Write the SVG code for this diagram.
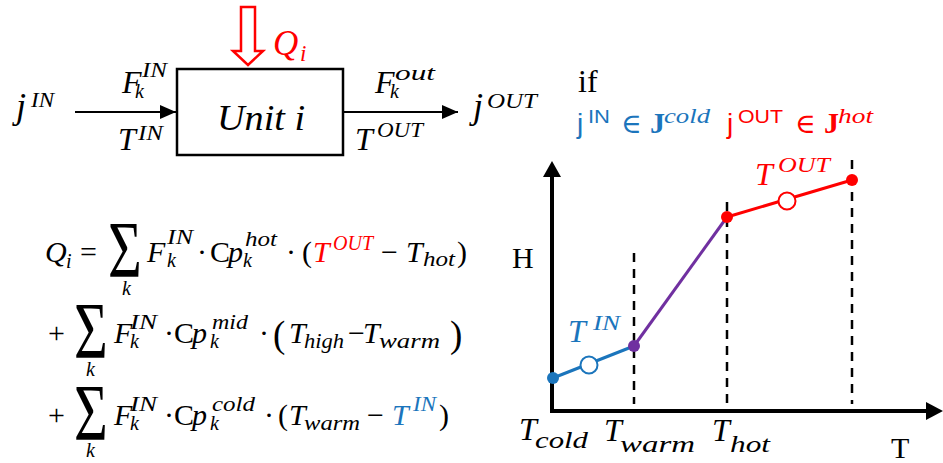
<svg xmlns="http://www.w3.org/2000/svg" width="943" height="463" viewBox="0 0 943 463">
<style>
text{font-family:"Liberation Serif","DejaVu Serif",serif;fill:#000}
.m{font-style:italic;font-size:32px}
.s{font-style:italic;font-size:20px}
.e{font-style:italic;font-size:30px}
.es{font-style:italic;font-size:20px}
.up{font-style:normal}
.r{fill:#ff0000}
.b{fill:#1b75bc}
.sans{font-family:"Liberation Sans","Noto Sans",sans-serif}
.sig{font-style:normal;font-size:58px}
.dash{stroke:#000;stroke-width:2.5;stroke-dasharray:9,7;fill:none}
.ax{stroke:#000;stroke-width:4;fill:none}
</style>
<defs>
<marker id="ah" markerWidth="16" markerHeight="14" refX="16" refY="7" orient="auto" markerUnits="userSpaceOnUse">
<path d="M0,0 L16,7 L0,14 Z" fill="#000"/>
</marker>
</defs>

<g id="unit">
<rect x="177" y="69" width="166" height="86" fill="#fff" stroke="#000" stroke-width="2.5"/>
<text class="m" x="217" y="130" textLength="88" lengthAdjust="spacingAndGlyphs" style="font-size:36px">Unit i</text>
</g>

<g id="heat">
<path d="M241,7 H255 V51 H263 L248,65 L233,51 H241 Z" fill="none" stroke="#ff0000" stroke-width="2.5"/>
<text class="m r" x="273" y="55" style="font-size:35px">Q</text><text class="s r" x="300" y="61" style="font-size:23px">i</text>
</g>

<g id="inlet">
<text class="m" x="16" y="118" style="font-size:36px">j</text><text class="s" x="31" y="107" textLength="23" lengthAdjust="spacingAndGlyphs">IN</text>
<text class="m" x="122" y="93">F</text><text class="s" x="142" y="77" textLength="25" lengthAdjust="spacingAndGlyphs">IN</text><text class="s" x="135" y="98">k</text>
<text class="m" x="118" y="150">T</text><text class="s" x="138" y="140" textLength="25" lengthAdjust="spacingAndGlyphs">IN</text>
</g>

<g id="outlet">
<text class="m" x="375" y="93">F</text><text class="s" x="395" y="80" textLength="40" lengthAdjust="spacingAndGlyphs">out</text><text class="s" x="390" y="98">k</text>
<text class="m" x="355" y="150">T</text><text class="s" x="377" y="137" textLength="46" lengthAdjust="spacingAndGlyphs">OUT</text>
<text class="m" x="473" y="118" style="font-size:36px">j</text><text class="s" x="487" y="108" textLength="50" lengthAdjust="spacingAndGlyphs">OUT</text>
</g>

<g id="connectors">
<line x1="75" y1="112" x2="176" y2="112" stroke="#000" stroke-width="2" marker-end="url(#ah)"/>
<line x1="343" y1="112" x2="458" y2="112" stroke="#000" stroke-width="2" marker-end="url(#ah)"/>
</g>

<g id="equation">
<!-- line 1 -->
<text class="e" x="45" y="262">Q</text><text class="es" x="66" y="268">i</text>
<text class="e up" x="80" y="262">=</text>
<text class="sig" transform="translate(108,277) scale(1,1.38)">Σ</text>
<text class="es" x="122" y="295">k</text>
<text class="e" x="147" y="262">F</text><text class="es" x="167" y="244" textLength="26" lengthAdjust="spacingAndGlyphs">IN</text><text class="es" x="167" y="267">k</text>
<text class="e up" x="197" y="262">·</text>
<text class="e up" x="210" y="262">C</text><text class="e" x="228" y="262">p</text><text class="es" x="245" y="246" textLength="32" lengthAdjust="spacingAndGlyphs">hot</text><text class="es" x="243" y="267">k</text>
<text class="e up" x="286" y="262">·</text>
<text class="e up" x="302" y="262">(</text>
<text class="e r" x="313" y="262">T</text><text class="es r" x="333" y="250" textLength="40" lengthAdjust="spacingAndGlyphs">OUT</text>
<text class="e up" x="381" y="262">−</text>
<text class="e" x="406" y="262">T</text><text class="es" x="423" y="266" textLength="32" lengthAdjust="spacingAndGlyphs">hot</text>
<text class="e up" x="457" y="262">)</text>
<!-- line 2 -->
<text class="e up" x="48" y="343">+</text>
<text class="sig" transform="translate(74,358) scale(1,1.38)">Σ</text>
<text class="es" x="86" y="376">k</text>
<text class="e" x="114" y="343">F</text><text class="es" x="130" y="329" textLength="27" lengthAdjust="spacingAndGlyphs">IN</text><text class="es" x="130" y="348">k</text>
<text class="e up" x="164" y="343">·</text>
<text class="e up" x="174" y="343">C</text><text class="e" x="192" y="343">p</text><text class="es" x="212" y="329" textLength="36" lengthAdjust="spacingAndGlyphs">mid</text><text class="es" x="210" y="348">k</text>
<text class="e up" x="259" y="343">·</text>
<text class="up" x="273" y="347" style="font-size:37px">(</text>
<text class="e" x="289" y="343">T</text><text class="es" x="304" y="348" textLength="40" lengthAdjust="spacingAndGlyphs">high</text>
<text class="e up" x="348" y="343">−</text>
<text class="e" x="363" y="343">T</text><text class="es" x="379" y="348" textLength="61" lengthAdjust="spacingAndGlyphs">warm</text>
<text class="up" x="450" y="347" style="font-size:37px">)</text>
<!-- line 3 -->
<text class="e up" x="48" y="425">+</text>
<text class="sig" transform="translate(74,440) scale(1,1.38)">Σ</text>
<text class="es" x="86" y="457">k</text>
<text class="e" x="114" y="425">F</text><text class="es" x="130" y="411" textLength="27" lengthAdjust="spacingAndGlyphs">IN</text><text class="es" x="130" y="430">k</text>
<text class="e up" x="164" y="425">·</text>
<text class="e up" x="174" y="425">C</text><text class="e" x="192" y="425">p</text><text class="es" x="212" y="411" textLength="43" lengthAdjust="spacingAndGlyphs">cold</text><text class="es" x="210" y="430">k</text>
<text class="e up" x="264" y="425">·</text>
<text class="e up" x="278" y="425">(</text>
<text class="e" x="289" y="425">T</text><text class="es" x="304" y="430" textLength="56" lengthAdjust="spacingAndGlyphs">warm</text>
<text class="e up" x="367" y="425">−</text>
<text class="e b" x="392" y="425">T</text><text class="es b" x="413" y="411" textLength="23" lengthAdjust="spacingAndGlyphs">IN</text>
<text class="e up" x="439" y="425">)</text>
</g>

<g id="condition">
<text x="578" y="92" style="font-size:32px">if</text>
<text class="b sans" x="577" y="133" style="font-size:28px">j</text><text class="b sans" x="588" y="123" textLength="22" lengthAdjust="spacingAndGlyphs" style="font-size:18px">IN</text>
<text class="b" x="621" y="133" style="font-size:28px">∈</text>
<text class="b" x="650" y="133" style="font-size:30px;font-weight:bold">J</text><text class="b" x="664" y="123" textLength="46" lengthAdjust="spacingAndGlyphs" style="font-size:21px;font-style:italic">cold</text>
<text class="r sans" x="727" y="133" style="font-size:28px">j</text><text class="r sans" x="738" y="123" textLength="45" lengthAdjust="spacingAndGlyphs" style="font-size:18px">OUT</text>
<text class="r" x="795" y="133" style="font-size:28px">∈</text>
<text class="r" x="824" y="133" style="font-size:30px;font-weight:bold">J</text><text class="r" x="838" y="123" textLength="35" lengthAdjust="spacingAndGlyphs" style="font-size:21px;font-style:italic">hot</text>
</g>

<g id="chart">
<line class="ax" x1="552" y1="411" x2="552" y2="172"/>
<path d="M543,177 L552,161 L561,177 Z" fill="#000"/>
<line class="ax" x1="550" y1="411" x2="928" y2="411"/>
<path d="M926,402 L943,411 L926,420 Z" fill="#000"/>
<text x="512" y="268" style="font-size:30px">H</text>
<text x="891" y="458" style="font-size:30px">T</text>
<line class="dash" x1="634" y1="253" x2="634" y2="404"/>
<line class="dash" x1="727" y1="202" x2="727" y2="404"/>
<line class="dash" x1="852" y1="160" x2="852" y2="404"/>
<line x1="553" y1="378" x2="634" y2="346" stroke="#1b75bc" stroke-width="3"/>
<line x1="634" y1="346" x2="727" y2="217" stroke="#7030a0" stroke-width="3"/>
<line x1="727" y1="217" x2="852" y2="180" stroke="#ff0000" stroke-width="3"/>
<circle cx="553" cy="378" r="6" fill="#1b75bc"/>
<circle cx="589" cy="365" r="8.5" fill="#fff" stroke="#1b75bc" stroke-width="2"/>
<circle cx="634" cy="346" r="6" fill="#7030a0"/>
<circle cx="727" cy="217" r="6" fill="#ff0000"/>
<circle cx="787" cy="201" r="8.5" fill="#fff" stroke="#ff0000" stroke-width="2"/>
<circle cx="852" cy="180" r="6" fill="#ff0000"/>
<text class="e b" x="568" y="342" style="font-size:32px">T</text><text class="es b" x="593" y="330" textLength="27" lengthAdjust="spacingAndGlyphs" style="font-size:21px">IN</text>
<text class="e r" x="755" y="185" style="font-size:32px">T</text><text class="es r" x="778" y="172" textLength="52" lengthAdjust="spacingAndGlyphs" style="font-size:21px">OUT</text>
<text class="e" x="519" y="440" style="font-size:32px">T</text><text class="es" x="535" y="448" textLength="53" lengthAdjust="spacingAndGlyphs" style="font-size:23px">cold</text>
<text class="e" x="604" y="441" style="font-size:32px">T</text><text class="es" x="620" y="452" textLength="75" lengthAdjust="spacingAndGlyphs" style="font-size:23px">warm</text>
<text class="e" x="712" y="441" style="font-size:32px">T</text><text class="es" x="730" y="452" textLength="40" lengthAdjust="spacingAndGlyphs" style="font-size:23px">hot</text>
</g>
</svg>
